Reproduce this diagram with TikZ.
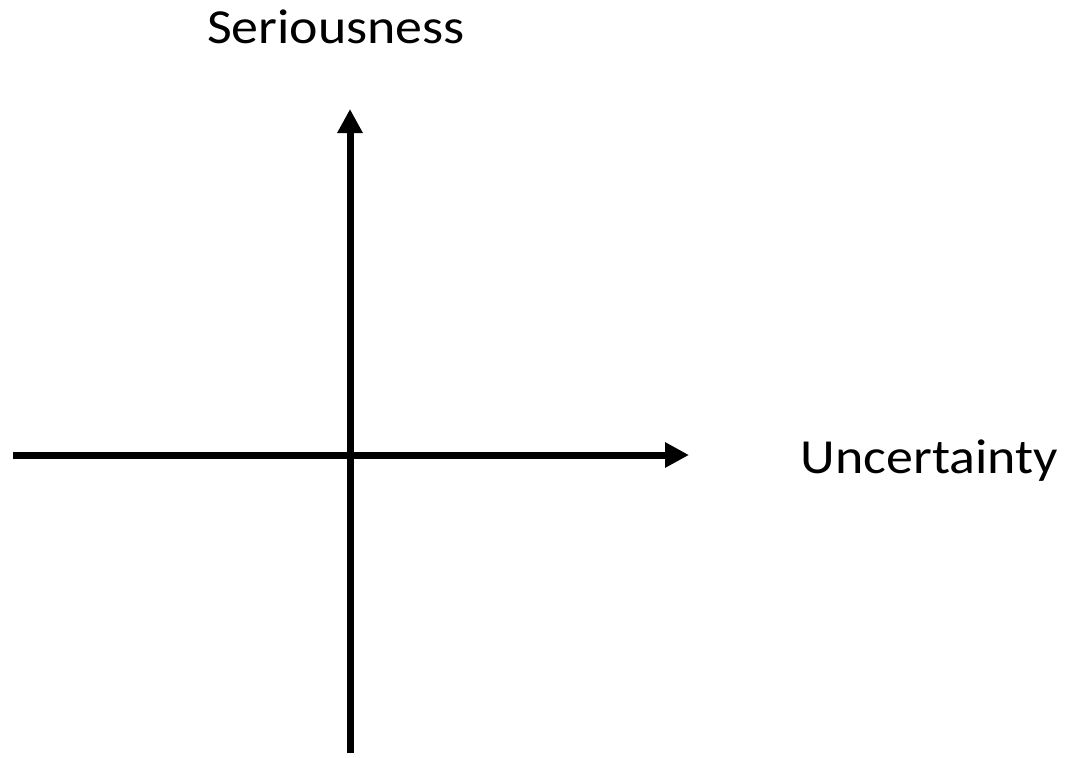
\documentclass[tikz,border=0pt]{standalone}
\usepackage{fontspec}
\setmainfont{Carlito}
\usetikzlibrary{arrows.meta}
\begin{document}
\begin{tikzpicture}[x=1pt,y=-1pt,
  axis/.style={line width=7pt,-{Triangle[length=24pt,width=24pt]}},
  lbl/.style={font=\fontsize{49}{58}\selectfont,inner sep=0pt,anchor=base,xscale=1.1}]
\useasboundingbox (0,0) rectangle (1067,757);
\coordinate (hl) at (13,455);
\coordinate (hr) at (689,455);
\coordinate (vb) at (350,753);
\coordinate (vt) at (350,109);
\draw[axis] (hl) -- (hr);
\draw[axis] (vb) -- (vt);
\node[lbl] (ser) at (336,44) {Seriousness};
\node[lbl] (unc) at (929.5,473) {Uncertainty};
\end{tikzpicture}
\end{document}
